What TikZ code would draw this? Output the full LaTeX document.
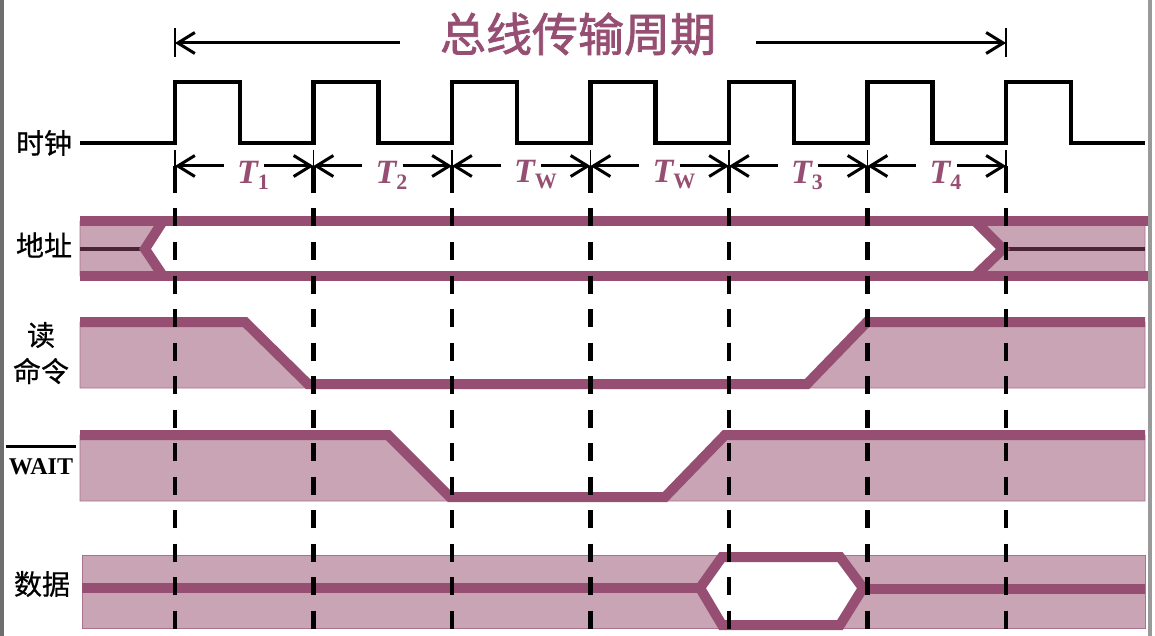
\documentclass[tikz,border=0pt]{standalone}
\usepackage{fontspec}
\setmainfont{Liberation Serif}
\newfontfamily\cjk[FakeBold=0.6]{Noto Sans CJK SC}
\newfontfamily\cjktitle[FakeBold=1.6]{Noto Sans CJK SC}
\usetikzlibrary{arrows.meta}

\definecolor{sigline}{RGB}{150,79,114}
\definecolor{sigfill}{RGB}{200,164,181}
\definecolor{sigdark}{RGB}{75,35,55}
\definecolor{edgegray}{RGB}{110,110,110}

\tikzset{
  sig/.style={line width=10pt, sigline},
  sigarea/.style={fill=sigfill, draw=sigline!80, line width=0.6pt},
  clk/.style={line width=4.5pt},
  period/.style={line width=4.5pt, dash pattern=on 18pt off 15.5pt},
  tick/.style={line width=1.5pt},
  dim/.style={line width=3pt, -{Straight Barb[length=17pt,width=21pt,line width=3pt]}},
  rowlabel/.style={font=\cjk\fontsize{28}{30}\selectfont, inner sep=0pt},
  tlabel/.style={text=sigline, inner xsep=13pt, inner ysep=0pt},
}
\newcommand{\Tsub}[1]{{\fontsize{34}{34}\selectfont\bfseries\itshape T}\raisebox{-6pt}{\fontsize{22}{22}\selectfont\bfseries #1}}

\begin{document}
\begin{tikzpicture}[x=1pt,y=-1pt]
  \useasboundingbox (0,0) rectangle (1155,636);
  \fill[edgegray] (0,0) rectangle (4,636);
  \fill[edgegray!70] (1148,0) rectangle (1152,636);

  % bus cycle
  \node[font=\cjktitle\fontsize{46}{50}\selectfont, text=sigline, inner xsep=40pt, inner ysep=0pt] (title) at (578,34) {总线传输周期};
  \coordinate (bl) at (175,43);
  \coordinate (br) at (1006,43);
  \draw[tick] ([yshift=15pt]bl) -- ([yshift=-14pt]bl);
  \draw[tick] ([yshift=15pt]br) -- ([yshift=-14pt]br);
  \draw[dim] (title.west |- bl) -- (bl);
  \draw[dim] (title.east |- br) -- (br);

  % clock
  \node[rowlabel] (clklab) at (44,143) {时钟};
  \draw[clk] (80,143) foreach \i in {0,...,6} { -- ({175+138.5*\i},143) -- ++(0,-61) -- ++(65,0) -- ++(0,61) } -- (1145,143);

  % address
  \node[rowlabel] (addrlab) at (44,245) {地址};
  \filldraw[sigarea] (80,221) -- (163,221) -- (145,249) -- (163,276) -- (80,276) -- cycle;
  \filldraw[sigarea] (975,221) -- (1003,249) -- (975,276) -- (1145,276) -- (1145,221) -- cycle;
  \draw[sigdark, line width=4pt] (80,249) -- (145,249) (1003,249) -- (1145,249);
  \draw[sig] (80,221) -- (1148,221) (80,276) -- (1148,276);
  \draw[sig] (163,221) -- (145,249) -- (163,276) (975,221) -- (1003,249) -- (975,276);

  % read
  \node[rowlabel] (rdlab) at (41,335) {读};
  \node[rowlabel] (cmdlab) at (41,371) {命令};
  \filldraw[sigarea] (80,322) -- (245,322) -- (308,388) -- (80,388) -- cycle;
  \filldraw[sigarea] (807,388) -- (867,322) -- (1145,322) -- (1145,388) -- cycle;
  \draw[sig] (80,322) -- (245,322) -- (308,384) -- (807,384) -- (867,322) -- (1145,322);

  % wait
  \node[font=\bfseries\fontsize{24}{24}\selectfont, inner xsep=3pt, inner ysep=0pt, anchor=base] (waitlab) at (41,474) {WAIT};
  \draw[line width=3pt] ([yshift=11pt]waitlab.north west) -- ([yshift=11pt]waitlab.north east);
  \filldraw[sigarea] (80,435) -- (388,435) -- (450,501) -- (80,501) -- cycle;
  \filldraw[sigarea] (665,501) -- (725,435) -- (1145,435) -- (1145,501) -- cycle;
  \draw[sig] (80,435) -- (388,435) -- (450,497) -- (665,497) -- (725,435) -- (1145,435);

  % data
  \node[rowlabel] (datalab) at (42,584) {数据};
  \filldraw[sigarea] (82,555) rectangle (1145,628);
  \fill[white] (700,588) -- (722,557) -- (840,557) -- (863,588) -- (840,625) -- (722,625) -- cycle;
  \draw[sig] (700,588) -- (722,557) -- (840,557) -- (863,588) -- (840,625) -- (722,625) -- cycle;
  \draw[sig] (82,588) -- (700,588) (863,589) -- (1145,589);

  % clock periods
  \foreach \i in {0,...,6}{
    \coordinate (e\i) at ({175+138.5*\i},166);
    \draw[tick] ([yshift=16pt]e\i) -- (e\i);
    \draw[line width=4.5pt] (e\i) -- ++(0,9);
    \draw[period] ([yshift=-9pt]e\i) -- ++(0,461);
  }
  \foreach \lab [count=\i from 0] in {1,2,W,W,3,4}{
    \pgfmathtruncatemacro{\j}{\i+1}
    \node[tlabel] (t\i) at ({244+138.5*\i},175) {\makebox[14pt][l]{\Tsub{\lab}}};
    \draw[dim] (t\i.west |- e\i) -- (e\i);
    \draw[dim] (t\i.east |- e\j) -- (e\j);
  }
\end{tikzpicture}
\end{document}
